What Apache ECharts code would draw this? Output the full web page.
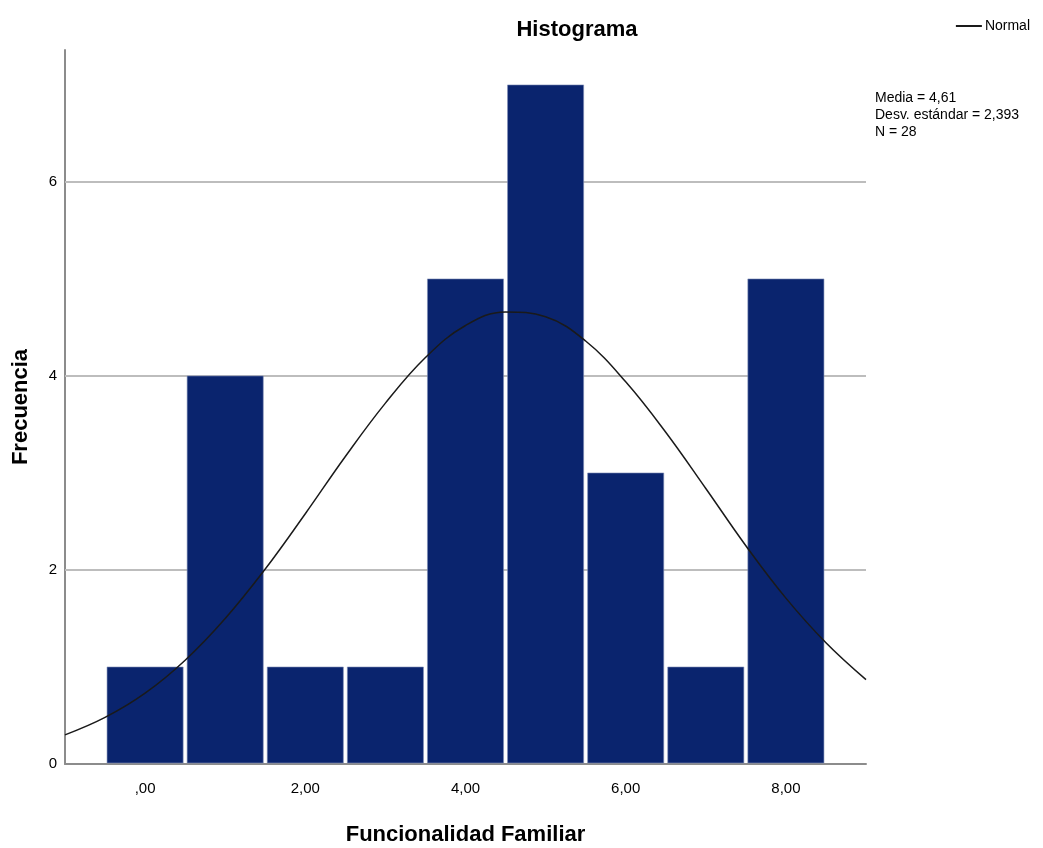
<!DOCTYPE html>
<html><head><meta charset="utf-8">
<script src="https://cdn.jsdelivr.net/npm/echarts@6/dist/echarts.min.js"></script>
<style>html,body{margin:0;padding:0;background:#fff}#c{width:1043px;height:848px}</style>
</head><body><div id="c"></div>
<script>
// Histogram bins (bin centres) and frequencies
const binCenters = [0, 1, 2, 3, 4, 5, 6, 7, 8];
const frequencies = [1, 4, 1, 1, 5, 7, 3, 1, 5];
// Normal curve
const curveX = [-1, -0.5, 0, 0.5, 1, 1.5, 2, 2.5, 3, 3.5, 4, 4.5, 5, 5.5, 6, 6.5, 7, 7.5, 8, 8.5, 9];
const curveY = [0.30, 0.48, 0.73, 1.07, 1.50, 2.01, 2.58, 3.17, 3.72, 4.19, 4.52, 4.66, 4.61, 4.36, 3.94, 3.42, 2.84, 2.25, 1.71, 1.25, 0.87];
const xTickLabels = {0: ',00', 2: '2,00', 4: '4,00', 6: '6,00', 8: '8,00'};
const yGridValues = [2, 4, 6];
const statsLines = ['Media = 4,61', 'Desv. estándar = 2,393', 'N = 28'];

const FONT = '"Liberation Sans Narrow", "Arial Narrow", "Liberation Sans", Arial, sans-serif';
const chart = echarts.init(document.getElementById('c'));
chart.setOption({
  animation: false,
  backgroundColor: '#ffffff',
  title: {
    text: 'Histograma', left: 572, top: 14, textAlign: 'center',
    textStyle: {fontFamily: FONT, fontSize: 22, fontWeight: 'bold', color: '#000'}
  },
  legend: {
    right: 8, top: 14, itemWidth: 26, itemHeight: 2, itemGap: 4,
    data: [{name: 'Normal', icon: 'rect'}],
    textStyle: {fontFamily: FONT, fontSize: 14, color: '#000', padding: [0,0,0,-2]}
  },
  graphic: [{
    type: 'text', left: 875, top: 90,
    style: {text: statsLines.join('\n'), fontFamily: FONT, fontSize: 14, lineHeight: 17, fill: '#000'}
  }],
  grid: {left: 65, right: 177, top: 50, bottom: 84, containLabel: false, outerBoundsMode: 'none'},
  xAxis: {
    type: 'value', min: -1, max: 9, interval: 1,
    name: 'Funcionalidad Familiar', nameLocation: 'middle', nameGap: 60,
    nameTextStyle: {fontFamily: FONT, fontSize: 22, fontWeight: 'bold', color: '#000'},
    axisLine: {lineStyle: {color: '#8c8c8c', width: 2}},
    axisTick: {show: false},
    splitLine: {show: false},
    axisLabel: {
      fontFamily: FONT, fontSize: 15, color: '#000', margin: 17,
      formatter: v => (xTickLabels[v] !== undefined ? xTickLabels[v] : '')
    }
  },
  yAxis: {
    type: 'value', min: 0, max: 7.36, interval: 2,
    name: 'Frecuencia', nameLocation: 'middle', nameGap: 33, nameRotate: 90,
    nameTextStyle: {fontFamily: FONT, fontSize: 22, fontWeight: 'bold', color: '#000'},
    axisLine: {show: true, onZero: false, lineStyle: {color: '#8c8c8c', width: 2}},
    axisTick: {show: false},
    splitLine: {show: false},
    axisLabel: {
      fontFamily: FONT, fontSize: 15, color: '#000', margin: 8,
      formatter: v => (v % 2 === 0 ? String(v) : '')
    }
  },
  series: [{
    type: 'line', name: 'grid', data: [], z: 1, silent: true,
    markLine: {
      silent: true, symbol: 'none', label: {show: false}, z: 1,
      lineStyle: {color: '#bdbdbd', width: 2, type: 'solid'},
      data: yGridValues.map(v => ({yAxis: v}))
    }
  }, {
    type: 'custom',
    name: 'Frecuencia',
    data: binCenters.map((x, i) => [x, frequencies[i]]),
    renderItem: function (params, api) {
      const x = api.value(0), y = api.value(1);
      const p0 = api.coord([x - 0.5, y]);
      const p1 = api.coord([x + 0.5, 0]);
      const gap = 2;
      return {
        type: 'rect',
        shape: {x: p0[0] + gap, y: p0[1], width: p1[0] - p0[0] - 2 * gap, height: p1[1] - p0[1] - 1},
        style: {fill: '#0a246e', stroke: '#7f8db5', lineWidth: 0.6}
      };
    },
    z: 3
  }, {
    type: 'line', name: 'Normal',
    data: curveX.map((x, i) => [x, curveY[i]]),
    smooth: 0.4, showSymbol: false, symbol: 'none',
    lineStyle: {color: '#1a1a1a', width: 1.5},
    itemStyle: {color: '#1a1a1a'},
    z: 5
  }]
});
</script></body></html>
